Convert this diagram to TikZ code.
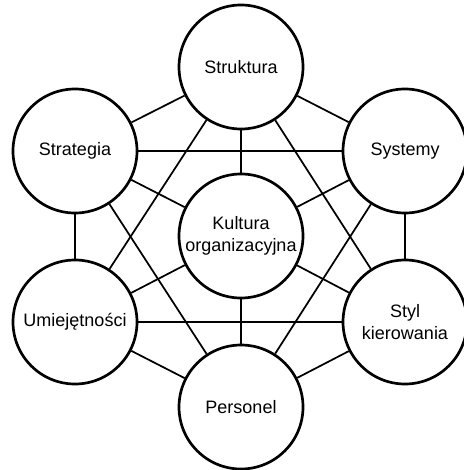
\documentclass[tikz,border=0pt]{standalone}
\usepackage{fontspec}
\setmainfont{Liberation Sans}
\usetikzlibrary{calc}

\begin{document}
\begin{tikzpicture}[x=0.75pt, y=-0.75pt]
		\def\r{62};
		\tikzset{
			element/.style = {circle, draw, line width=2pt, minimum size={2*\r*0.75pt}, inner sep=0pt, align=center, font=\fontsize{13.5}{16}\selectfont},
			link/.style = {line width=1.3pt}
		}
		\useasboundingbox (0,0) rectangle (463,470);

		\node [element] (kultura) at (241,236) {Kultura\\organizacyjna};
		\node [element] (struktura) at (241,67) {Struktura};
		\node [element] (strategia) at (75,151) {Strategia};
		\node [element] (systemy) at (405,151) {Systemy};
		\node [element] (umiejetnosci) at (75,322) {Umiejętności};
		\node [element] (styl) at (405,322) {Styl\\kierowania};
		\node [element] (personel) at (241,407) {Personel};

		\begin{scope}[link]
			\foreach \a in {struktura, strategia, systemy, umiejetnosci, styl, personel}
				\draw (kultura) -- (\a);
			\foreach \a/\b in {struktura/strategia, struktura/systemy, strategia/umiejetnosci, systemy/styl, umiejetnosci/personel, styl/personel}
				\draw (\a) -- (\b);
			\foreach \a/\b in {strategia/systemy, umiejetnosci/styl, struktura/umiejetnosci, struktura/styl, strategia/personel, systemy/personel}
				\draw (\a) -- (\b);
		\end{scope}
	\end{tikzpicture}
\end{document}
